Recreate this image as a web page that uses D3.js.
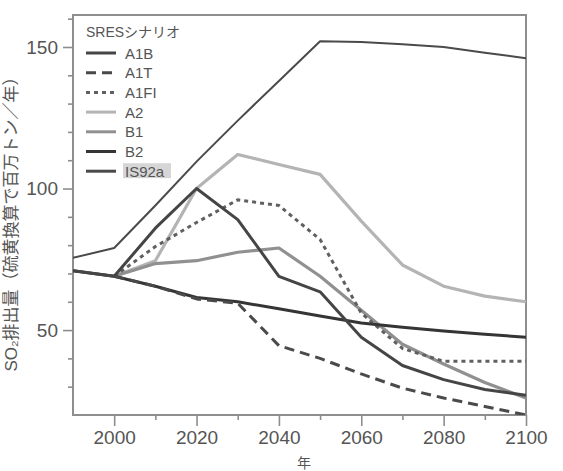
<!DOCTYPE html>
<html>
<head>
<meta charset="utf-8">
<script src="https://cdn.jsdelivr.net/npm/d3@7"></script>
<style>
  html, body { margin: 0; padding: 0; background: #fff; }
  svg { display: block; }
  text { font-family: "Liberation Sans", Arial, "Noto Sans CJK JP", sans-serif; }
</style>
</head>
<body>
<svg id="chart" width="563" height="471"></svg>
<script>
// Years sampled every decade
const years = [1990, 2000, 2010, 2020, 2030, 2040, 2050, 2060, 2070, 2080, 2090, 2100];

// SO2 emissions per scenario (null = not drawn for that year)
const a1b   = [71, 69, 86, 100, 89, 69, 63.5, 47.5, 37.5, 32.5, 29, 27];
const a1t   = [null, 69, 65.5, 61, 59.5, 44.5, 40, 34.5, 29.5, 26, 23, 20];
const a1fi  = [null, 69, 79.5, 88, 96, 94, 82, 56, 43.5, 39, 39, 39];
const a2    = [null, 69, 74.5, 100, 112, 108.5, 105, 88.5, 73, 65.5, 62, 60];
const b1    = [null, 69, 73.5, 74.5, 77.5, 79, 69, 57, 45, 38, 31.5, 26];
const b2    = [71, 69, 65.5, 61.5, 60, 57.5, 55, 52.5, 51, 49.7, 48.5, 47.5];
const is92a = [75.5, 79, 94, 109.5, 124, 138, 152, 151.8, 151, 150, 148, 146];

const seriesNames = ["A1B", "A1T", "A1FI", "A2", "B1", "B2", "IS92a"];
const seriesValues = [a1b, a1t, a1fi, a2, b1, b2, is92a];

const xMajorTicks = [2000, 2020, 2040, 2060, 2080, 2100];
const xMinorTicks = [2010, 2030, 2050, 2070, 2090];
const yMajorTicks = [50, 100, 150];
const yMinorTicks = [30, 40, 60, 70, 80, 90, 110, 120, 130, 140, 160];

const legendTitle = "SRESシナリオ";
const xTitle = "年";
const yTitle = "SO₂排出量（硫黄換算で百万トン／年）";

// Line appearance per scenario
const styles = {
  "A1B":   { color: "#454545", width: 3,   dash: null },
  "A1T":   { color: "#4a4a4a", width: 3,   dash: "10,6" },
  "A1FI":  { color: "#606060", width: 3,   dash: "4,4" },
  "A2":    { color: "#b4b4b4", width: 3.2, dash: null },
  "B1":    { color: "#909090", width: 3.2, dash: null },
  "B2":    { color: "#353535", width: 3,   dash: null },
  "IS92a": { color: "#4a4a4a", width: 2,   dash: null }
};

const svg = d3.select("#chart");
const plotLeft = 73, plotRight = 526, plotTop = 15, plotBottom = 415;

const x = d3.scaleLinear().domain([1990, 2100]).range([plotLeft, plotRight]);
const y = d3.scaleLinear().domain([20, 161.3]).range([plotBottom, plotTop]);

const axisColor = "#8e8e8e";
const textColor = "#555";

// Clip lines to the plotting frame
svg.append("defs").append("clipPath").attr("id", "plotClip")
  .append("rect").attr("x", plotLeft).attr("y", plotTop)
  .attr("width", plotRight - plotLeft).attr("height", plotBottom - plotTop);

// Axes
function styleAxis(g) {
  g.select(".domain").remove();
  g.selectAll(".tick line").attr("stroke", axisColor).attr("stroke-width", 1.6);
  g.selectAll(".tick text").attr("fill", textColor).attr("font-size", 19);
}

svg.append("g").attr("transform", `translate(0,${plotBottom})`)
  .call(d3.axisBottom(x).tickValues(xMajorTicks).tickSize(11).tickPadding(5).tickFormat(d3.format("d")))
  .call(styleAxis);
svg.append("g").attr("transform", `translate(0,${plotBottom})`)
  .call(d3.axisBottom(x).tickValues(xMinorTicks).tickSize(5).tickFormat(""))
  .call(styleAxis);

svg.append("g").attr("transform", `translate(${plotLeft},0)`)
  .call(d3.axisLeft(y).tickValues(yMajorTicks).tickSize(10).tickPadding(5))
  .call(styleAxis);
svg.append("g").attr("transform", `translate(${plotLeft},0)`)
  .call(d3.axisLeft(y).tickValues(yMinorTicks).tickSize(5).tickFormat(""))
  .call(styleAxis);

// Frame
svg.append("rect")
  .attr("x", plotLeft).attr("y", plotTop)
  .attr("width", plotRight - plotLeft).attr("height", plotBottom - plotTop)
  .attr("fill", "none").attr("stroke", axisColor).attr("stroke-width", 2);

// Scenario lines
const drawOrder = ["IS92a", "A2", "B1", "A1FI", "B2", "A1T", "A1B"];
const lines = svg.append("g").attr("clip-path", "url(#plotClip)");

drawOrder.forEach(name => {
  const vals = seriesValues[seriesNames.indexOf(name)];
  const pts = years.map((yr, i) => ({ yr, v: vals[i] })).filter(d => d.v != null);
  const st = styles[name];
  const gen = d3.line()
    .x(d => x(d.yr)).y(d => y(d.v))
    .curve(d3.curveLinear);
  lines.append("path")
    .attr("d", gen(pts))
    .attr("fill", "none")
    .attr("stroke", st.color)
    .attr("stroke-width", st.width)
    .attr("stroke-dasharray", st.dash)
    .attr("stroke-linejoin", "round");
});

// Legend
const legend = svg.append("g");
legend.append("text")
  .attr("x", 86).attr("y", 37)
  .attr("fill", textColor).attr("font-size", 14)
  .text(legendTitle);

seriesNames.forEach((name, i) => {
  const cy = 53 + i * 19.7;
  const st = styles[name];
  legend.append("line")
    .attr("x1", 86).attr("x2", 116).attr("y1", cy).attr("y2", cy)
    .attr("stroke", st.color).attr("stroke-width", 3)
    .attr("stroke-dasharray", st.dash);
  if (name === "IS92a") {
    legend.append("rect")
      .attr("x", 123).attr("y", cy - 8).attr("width", 48).attr("height", 15)
      .attr("fill", "#d6d6d6");
  }
  legend.append("text")
    .attr("x", 125).attr("y", cy + 5.5)
    .attr("fill", textColor).attr("font-size", 15)
    .text(name);
});

// Axis titles
svg.append("text")
  .attr("x", 304).attr("y", 468)
  .attr("text-anchor", "middle")
  .attr("fill", textColor).attr("font-size", 14)
  .text(xTitle);

svg.append("text")
  .attr("transform", "translate(17,220) rotate(-90)")
  .attr("text-anchor", "middle")
  .attr("fill", textColor).attr("font-size", 17)
  .text(yTitle);
</script>
</body>
</html>
